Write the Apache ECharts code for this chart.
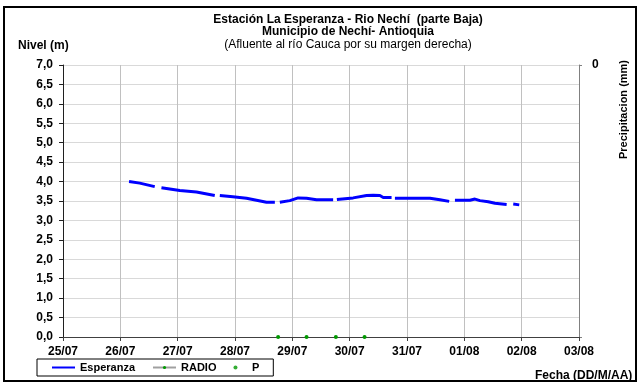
<!DOCTYPE html>
<html>
<head>
<meta charset="utf-8">
<script src="https://cdn.jsdelivr.net/npm/echarts@6/dist/echarts.min.js"></script>
<style>
  html, body { margin: 0; padding: 0; background: #fff; }
  #chart { width: 640px; height: 385px; }
</style>
</head>
<body>
<div id="chart"></div>
<script>
// Tiempo en días contados desde el 25/07 a las 00:00; null marca un hueco en el registro
const diasEsperanza = [1.152, 1.339, 1.600, 1.66, 1.717, 2.037, 2.328, 2.647, 2.69, 2.735, 2.962, 3.201, 3.550, 3.695, 3.74, 3.782, 3.956, 4.101, 4.248, 4.422, 4.712, 4.745, 4.777, 5.061, 5.295, 5.410, 5.527, 5.585, 5.731, 5.76, 5.789, 6.400, 6.574, 6.736, 6.79, 6.836, 7.098, 7.185, 7.272, 7.417, 7.534, 7.738, 7.80, 7.853, 7.958];
const nivelEsperanza = [4.00, 3.96, 3.87, null, 3.84, 3.77, 3.73, 3.64, null, 3.64, 3.61, 3.57, 3.47, 3.47, null, 3.47, 3.51, 3.58, 3.57, 3.53, 3.53, null, 3.54, 3.58, 3.64, 3.65, 3.64, 3.59, 3.59, null, 3.57, 3.57, 3.53, 3.49, null, 3.52, 3.52, 3.55, 3.51, 3.48, 3.44, 3.41, null, 3.42, 3.40];

// Lecturas del sensor RADIO (nivel 0)
const diasRadio = [3.752, 4.0, 4.248, 4.5, 4.759, 5.0, 5.260];
const valoresRadio = [0, null, 0, null, 0, null, 0];

// Serie P (sin registros en el periodo)
const valoresP = [];

const etiquetasFecha = ['25/07', '26/07', '27/07', '28/07', '29/07', '30/07', '31/07', '01/08', '02/08', '03/08'];

const fuente = 'Liberation Sans, Arial, sans-serif';

const chart = echarts.init(document.getElementById('chart'), null, { renderer: 'canvas' });

const pares = (xs, ys) => xs.map((x, i) => [x, ys[i]]);

chart.setOption({
  animation: false,
  backgroundColor: '#ffffff',
  textStyle: { fontFamily: fuente },
  grid: { left: 63, right: 61, top: 65, bottom: 48, containLabel: false },
  xAxis: {
    type: 'value',
    min: 0,
    max: 9,
    interval: 1,
    axisLine: { lineStyle: { color: '#404040', width: 1 } },
    axisTick: { show: true, length: 4, inside: false, lineStyle: { color: '#404040' } },
    axisLabel: {
      margin: 9,
      color: '#000',
      fontWeight: 'bold',
      fontSize: 12,
      fontFamily: fuente,
      formatter: v => etiquetasFecha[Math.round(v)] || ''
    },
    splitLine: { show: true, lineStyle: { color: '#c0c0c0', width: 1 } }
  },
  yAxis: [
    {
      type: 'value',
      min: 0,
      max: 7,
      interval: 0.5,
      axisLine: { show: true, lineStyle: { color: '#202020', width: 1 } },
      axisTick: { show: true, length: 4, inside: false, lineStyle: { color: '#202020' } },
      axisLabel: {
        margin: 10,
        color: '#000',
        fontWeight: 'bold',
        fontSize: 12,
        fontFamily: fuente,
        formatter: v => v.toFixed(1).replace('.', ',')
      },
      splitLine: { show: true, lineStyle: { color: '#d9d9d9', width: 1 } }
    },
    {
      type: 'value',
      position: 'right',
      inverse: true,
      min: 0,
      max: 1,
      interval: 1,
      axisLine: { show: true, lineStyle: { color: '#808080', width: 1 } },
      axisTick: { show: true, length: 3, inside: false, lineStyle: { color: '#808080' } },
      axisLabel: {
        margin: 13,
        color: '#000',
        fontWeight: 'bold',
        fontSize: 12,
        fontFamily: fuente,
        verticalAlign: 'middle',
        formatter: v => (v === 0 ? '0' : '')
      },
      splitLine: { show: false }
    }
  ],
  title: [
    {
      text: 'Estación La Esperanza - Rio Nechí  (parte Baja)',
      left: 343, top: 9, textAlign: 'center',
      textStyle: { fontSize: 12, fontWeight: 'bold', color: '#000', fontFamily: fuente }
    },
    {
      text: 'Municipio de Nechí- Antioquia',
      left: 343, top: 21, textAlign: 'center',
      textStyle: { fontSize: 12, fontWeight: 'bold', color: '#000', fontFamily: fuente }
    },
    {
      text: '(Afluente al río Cauca por su margen derecha)',
      left: 343, top: 34, textAlign: 'center',
      textStyle: { fontSize: 12, fontWeight: 'normal', color: '#000', fontFamily: fuente }
    },
    {
      text: 'Nivel (m)',
      left: 13, top: 35,
      textStyle: { fontSize: 12, fontWeight: 'bold', color: '#000', fontFamily: fuente }
    },
    {
      text: 'Fecha (DD/M/AA)',
      left: 530, top: 365,
      textStyle: { fontSize: 12, fontWeight: 'bold', color: '#000', fontFamily: fuente }
    }
  ],
  legend: {
    left: 37,
    top: 359,
    orient: 'horizontal',
    borderColor: '#000',
    borderWidth: 1,
    padding: [3, 14, 3, 14],
    itemGap: 17,
    itemWidth: 23,
    itemHeight: 4,
    textStyle: { fontSize: 11, fontWeight: 'bold', color: '#000', fontFamily: fuente },
    data: [
      { name: 'Esperanza', itemStyle: { opacity: 0 } },
      { name: 'RADIO' },
      { name: 'P' }
    ]
  },
  graphic: [
    {
      type: 'rect',
      shape: { x: 4, y: 7, width: 632, height: 374 },
      style: { fill: 'none', stroke: '#000', lineWidth: 2 },
      silent: true
    },
    {
      type: 'text',
      x: 624,
      y: 159,
      rotation: Math.PI / 2,
      style: {
        text: 'Precipitacion (mm)',
        font: 'bold 11px ' + fuente,
        fill: '#000',
        textAlign: 'left',
        textVerticalAlign: 'middle'
      },
      silent: true
    }
  ],
  series: [
    {
      name: 'Esperanza',
      type: 'line',
      xAxisIndex: 0,
      yAxisIndex: 0,
      data: pares(diasEsperanza, nivelEsperanza),
      symbol: 'none',
      connectNulls: false,
      lineStyle: { color: '#0000ff', width: 3 },
      itemStyle: { color: '#0000ff' },
      z: 5
    },
    {
      name: 'RADIO',
      type: 'line',
      xAxisIndex: 0,
      yAxisIndex: 0,
      data: pares(diasRadio, valoresRadio),
      symbol: 'circle',
      symbolSize: 4,
      showSymbol: true,
      connectNulls: false,
      lineStyle: { color: '#a0a0a0', width: 1 },
      itemStyle: { color: '#009900' },
      z: 6
    },
    {
      name: 'P',
      type: 'scatter',
      xAxisIndex: 0,
      yAxisIndex: 1,
      data: valoresP,
      symbol: 'circle',
      symbolSize: 3,
      itemStyle: { color: '#009900' }
    }
  ]
});
</script>
</body>
</html>
